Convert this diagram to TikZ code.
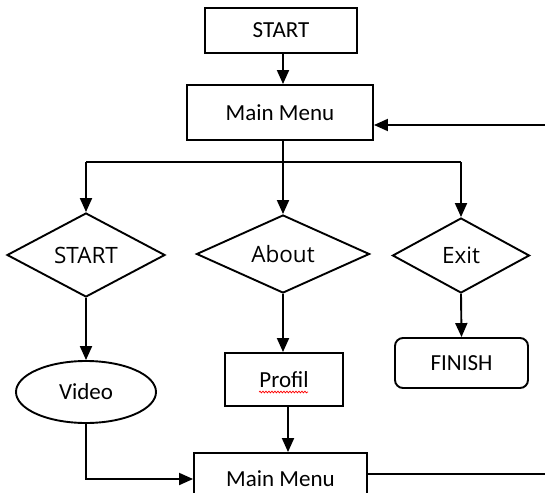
\documentclass[tikz,border=0pt]{standalone}
\usepackage{fontspec}
\setmainfont{Carlito}
\newfontfamily\dfont{Open Sans}
\usetikzlibrary{arrows.meta,shapes.geometric,decorations.pathmorphing}
\begin{document}
\begin{tikzpicture}[x=1pt,y=-1pt,
  every node/.style={inner sep=0pt},
  conn/.style={line width=1.9pt},
  arr/.style={conn,-{Triangle[length=14pt,width=12pt]}},
  boxnode/.style={draw,line width=1.9pt,rectangle,font=\fontsize{23}{27}\selectfont},
  dec/.style={draw,line width=1.9pt,diamond,aspect=2,font=\dfont\fontsize{22.5}{27}\selectfont},
  ell/.style={draw,line width=1.9pt,ellipse,font=\fontsize{23}{27}\selectfont},
  wavy/.style={red,line width=0.7pt,decorate,decoration={snake,amplitude=0.9pt,segment length=3pt}}
]
\useasboundingbox (0,0) rectangle (545,492);
\clip (0,0) rectangle (545,492);
\fill[white] (0,0) rectangle (545,492);

\node[boxnode,minimum width=152pt,minimum height=45pt] (startT) at (281,30.5) {START};
\node[boxnode,minimum width=186pt,minimum height=55pt] (menu1) at (280,112.5) {Main Menu};

\node[dec,minimum width=158pt,minimum height=84pt] (dStart) at (86,255) {\raisebox{-4pt}{START}};
\node[dec,minimum width=173pt,minimum height=78pt] (dAbout) at (283,254) {\raisebox{-4pt}{About}};
\node[dec,minimum width=137pt,minimum height=75pt] (dExit) at (461,255.5) {\raisebox{-3pt}{Exit}};

\node[ell,minimum width=140pt,minimum height=62pt] (video) at (86,392) {Video};
\node[boxnode,minimum width=118pt,minimum height=53pt] (profil) at (284,379.5) {Profil};
\node[boxnode,rounded corners=8pt,minimum width=133pt,minimum height=50pt] (finish) at (461.5,363) {FINISH};
\node[boxnode,minimum width=173pt,minimum height=52pt] (menu2) at (280.5,479) {Main Menu};

\coordinate (br) at (283,162);
\coordinate (r1) at (548,125);
\coordinate (r2) at (548,474);

\draw[wavy] (259,392) -- (308,392);

\draw[arr] ([xshift=2pt]startT.south) -- ([xshift=2pt]startT.south |- menu1.north);
\draw[arr] (r1) -- (r1 -| menu1.east);
\draw[arr] (dAbout.north |- menu1.south) -- (dAbout.north);
\draw[conn] (dStart.north |- br) -- (dExit.north |- br);
\draw[arr] (dStart.north |- br) -- (dStart.north);
\draw[arr] (dExit.north |- br) -- (dExit.north);

\draw[arr] (dStart.south) -- (video.north);
\draw[arr] (dAbout.south) -- (dAbout.south |- profil.north);
\draw[arr] (dExit.south) -- (finish.north);
\draw[arr] ([xshift=4pt]profil.south) -- ([xshift=4pt]profil.south |- menu2.north);
\draw[arr] (video.south) |- (menu2.west);
\draw[conn] (menu2.east |- r2) -- (r2);
\end{tikzpicture}
\end{document}
